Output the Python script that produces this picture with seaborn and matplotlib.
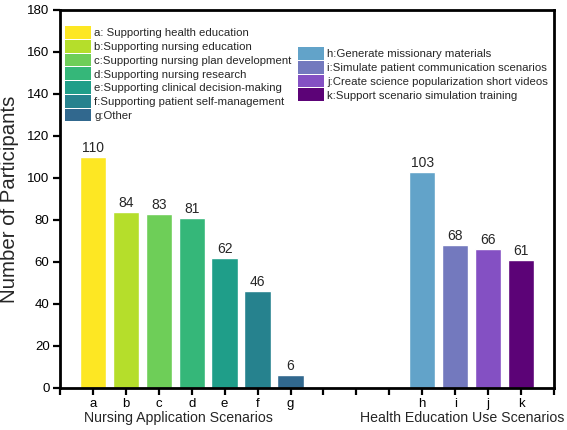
import matplotlib
matplotlib.use("Agg")
import matplotlib.pyplot as plt
from matplotlib.patches import Patch
import seaborn as sns
import pandas as pd

categories = list("abcdefghijk")
values = [110, 84, 83, 81, 62, 46, 6, 103, 68, 66, 61]
colors = ["#FDE723", "#B5DE2B", "#6ECE58", "#35B779", "#1F9E89", "#26828E",
          "#31688E", "#62A3C9", "#7379BE", "#8450C3", "#5C0377"]
legend_labels = [
    "a: Supporting health education",
    "b:Supporting nursing education",
    "c:Supporting nursing plan development",
    "d:Supporting nursing research",
    "e:Supporting clinical decision-making",
    "f:Supporting patient self-management",
    "g:Other",
    "h:Generate missionary materials",
    "i:Simulate patient communication scenarios",
    "j:Create science popularization short videos",
    "k:Support scenario simulation training",
]
group_names = ["Nursing Application Scenarios", "Health Education Use Scenarios"]
group_sizes = [7, 4]
y_ticks = [0, 20, 40, 60, 80, 100, 120, 140, 160, 180]

sns.set_style("ticks")
plt.rcParams["font.family"] = ["Liberation Sans", "DejaVu Sans"]

df = pd.DataFrame({"cat": categories, "val": values})
n1 = group_sizes[0]
blanks = ["", " ", "  "]
order = categories[:n1] + blanks + categories[n1:]
palette = dict(zip(categories, colors))

fig = plt.figure(figsize=(5.67, 4.30), dpi=100)
ax = fig.add_axes([60 / 567, 42 / 430, 494 / 567, 378 / 430])

sns.barplot(data=df, x="cat", y="val", hue="cat", order=order, palette=palette,
            width=0.8, saturation=1, legend=False, ax=ax)

for cont in ax.containers:
    ax.bar_label(cont, fontsize=10, padding=1.5)

ax.set_xlim(-1, len(order))
ax.set_ylim(0, 180)
ax.set_yticks(y_ticks)
ax.set_yticklabels([str(t) for t in y_ticks], fontsize=9.5)
pos = list(range(-1, len(order) + 1))
labs = [""] + order + [""]
ax.set_xticks(pos)
ax.set_xticklabels([l.strip() for l in labs], fontsize=9.5)
ax.set_xlabel("")
ax.set_ylabel("Number of Participants", fontsize=14.7, labelpad=6)

for s in ax.spines.values():
    s.set_linewidth(2)
    s.set_color("black")
ax.tick_params(axis="both", length=5, width=1.6, direction="out", pad=2.5, colors="black")

# group labels
ax.text(2.6, -0.062, group_names[0], transform=ax.get_xaxis_transform(),
        ha="center", va="top", fontsize=10.2)
ax.text(11.2, -0.062, group_names[1], transform=ax.get_xaxis_transform(),
        ha="center", va="top", fontsize=10.2)

h1 = [Patch(facecolor=palette[c], edgecolor="none") for c in categories[:n1]]
h2 = [Patch(facecolor=palette[c], edgecolor="none") for c in categories[n1:]]
common = dict(frameon=False, fontsize=8.2, handlelength=2.3, handleheight=1.36,
              labelspacing=0.08, handletextpad=0.25, borderpad=0, borderaxespad=0,
              loc="upper left")
leg1 = fig.legend(h1, legend_labels[:n1], bbox_to_anchor=(65 / 567, 1 - 26 / 430), **common)
leg2 = fig.legend(h2, legend_labels[n1:], bbox_to_anchor=(298 / 567, 1 - 47 / 430), **common)

fig.savefig("out.png", dpi=100)
